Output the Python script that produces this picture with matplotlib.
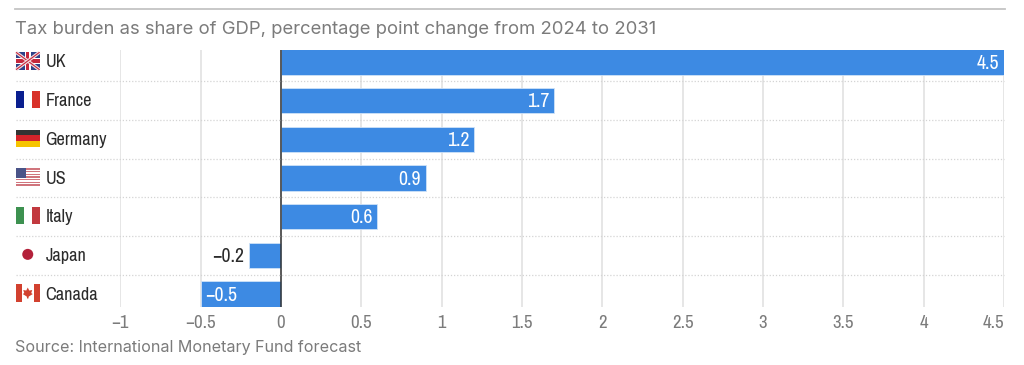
import numpy as np
import matplotlib
matplotlib.use('Agg')
import matplotlib.pyplot as plt
from matplotlib.patches import Rectangle, Circle, Polygon

countries = ['UK', 'France', 'Germany', 'US', 'Italy', 'Japan', 'Canada']
changes = [4.5, 1.7, 1.2, 0.9, 0.6, -0.2, -0.5]
value_labels = ['4.5', '1.7', '1.2', '0.9', '0.6', '\u22120.2', '\u22120.5']
tick_values = [-1, -0.5, 0, 0.5, 1, 1.5, 2, 2.5, 3, 3.5, 4, 4.5]
tick_labels = ['\u22121', '\u22120.5', '0', '0.5', '1', '1.5', '2', '2.5', '3', '3.5', '4', '4.5']
title = 'Tax burden as share of GDP, percentage point change from 2024 to 2031'
source = 'Source: International Monetary Fund forecast'

W, H = 1024, 365
NARROW = ['Archivo Narrow', 'Roboto Condensed', 'Roboto']
SANS = ['Inter', 'DejaVu Sans']
BLUE = '#3d8ae3'
GREY = '#7b7b7b'
INK = '#2b2b2b'

fig = plt.figure(figsize=(W / 100, H / 100), dpi=100, facecolor='white')

# overlay in pixel coordinates for rule, flags and row separators
bg = fig.add_axes([0, 0, 1, 1], zorder=3)
bg.set_xlim(0, W)
bg.set_ylim(H, 0)
bg.axis('off')
bg.patch.set_alpha(0)

left, right, top, bottom = 120.3, 1004, 50, 307
ax = fig.add_axes([left / W, 1 - bottom / H, (right - left) / W, (bottom - top) / H], zorder=2)
ax.set_xlim(-1, 4.5)
ax.set_ylim(6.335, -0.31)
for s in ax.spines.values():
    s.set_visible(False)
ax.set_yticks([])
ax.set_xticks(tick_values)
ax.set_xticklabels(tick_labels, family=NARROW, fontsize=13.5, color=GREY)
ax.get_xticklabels()[-1].set_horizontalalignment('right')
ax.tick_params(axis='x', length=0, pad=5.5)
ax.grid(axis='x', color='#e6e6e6', lw=1.4)
ax.set_axisbelow(True)

y = np.arange(len(countries))
ax.barh(y, changes, height=0.65, color=BLUE, edgecolor='#cfe2f8', lw=0.6, zorder=2)
ax.axvline(0, color='#333333', lw=1.1, zorder=3)

# value labels: inside the bar, except Japan's short bar
for i, (v, lab) in enumerate(zip(changes, value_labels)):
    yt = i - 0.025
    if v > 0:
        ax.text(v - 0.028, yt, lab, ha='right', va='center_baseline', color='white',
                family=NARROW, fontsize=14.2, zorder=4)
    elif v == -0.2:
        ax.text(v - 0.03, yt, lab, ha='right', va='center_baseline', color=INK,
                family=NARROW, fontsize=14.2, zorder=4)
    else:
        ax.text(v + 0.03, yt, lab, ha='left', va='center_baseline', color='white',
                family=NARROW, fontsize=14.2, zorder=4)

# row separators from the row positions
to_px = lambda d: ax.transData.transform((0, d))[1]
for i in range(len(countries) - 1):
    yp = H - to_px(i + 0.5)
    bg.plot([16, 1004], [yp, yp], color='#d4d4d4', lw=0.9, ls=(0, (1, 1.5)), zorder=0)


def flag_uk(x, y0, w, h):
    cx, cy = x + w / 2, y0 + h / 2
    bg.add_patch(Rectangle((x, y0), w, h, fc='#2f4288', lw=0))
    for a, b in [((x, y0), (x + w, y0 + h)), ((x, y0 + h), (x + w, y0))]:
        bg.plot(*zip(a, b), color='#f2dfe2', lw=2.4, solid_capstyle='butt')
        bg.plot(*zip(a, b), color='#c5283d', lw=0.8, solid_capstyle='butt')
    bg.add_patch(Rectangle((x, cy - 3), w, 6, fc='white', lw=0))
    bg.add_patch(Rectangle((cx - 3, y0), 6, h, fc='white', lw=0))
    bg.add_patch(Rectangle((x, cy - 1.7), w, 3.4, fc='#c5283d', lw=0))
    bg.add_patch(Rectangle((cx - 1.7, y0), 3.4, h, fc='#c5283d', lw=0))


def flag_france(x, y0, w, h):
    bg.add_patch(Rectangle((x, y0), w / 3, h, fc='#0a1f8f', lw=0))
    bg.add_patch(Rectangle((x + 2 * w / 3, y0), w / 3, h, fc='#d8322a', lw=0))


def flag_germany(x, y0, w, h):
    for k, c in enumerate(['#333333', '#d3232a', '#f6c400']):
        bg.add_patch(Rectangle((x, y0 + k * h / 3), w, h / 3, fc=c, lw=0))


def flag_us(x, y0, w, h):
    for k in range(7):
        bg.add_patch(Rectangle((x, y0 + k * h / 6.5), w, h / 13, fc='#d0757d', lw=0))
    bg.add_patch(Rectangle((x, y0), w * 0.42, h * 0.54, fc='#4a5488', lw=0))


def flag_italy(x, y0, w, h):
    bg.add_patch(Rectangle((x, y0), w / 3, h, fc='#3d9150', lw=0))
    bg.add_patch(Rectangle((x + 2 * w / 3, y0), w / 3, h, fc='#c2393f', lw=0))


def flag_japan(x, y0, w, h):
    bg.add_patch(Circle((x + w / 2, y0 + h / 2), 5.5, fc='#b3213a', lw=0))


def flag_canada(x, y0, w, h):
    cx, cy = x + w / 2, y0 + h / 2
    bg.add_patch(Rectangle((x, y0), w / 4, h, fc='#d2412f', lw=0))
    bg.add_patch(Rectangle((x + 3 * w / 4, y0), w / 4, h, fc='#d2412f', lw=0))
    leaf = [(0, -5.5), (1.5, -2.5), (4.5, -3), (3.5, 0), (5, 1), (1, 3.5), (0.6, 5.5),
            (-0.6, 5.5), (-1, 3.5), (-5, 1), (-3.5, 0), (-4.5, -3), (-1.5, -2.5)]
    bg.add_patch(Polygon([(cx + a, cy + b) for a, b in leaf], fc='#d2412f', lw=0))


flags = [flag_uk, flag_france, flag_germany, flag_us, flag_italy, flag_japan, flag_canada]
for i, (name, draw) in enumerate(zip(countries, flags)):
    yp = H - to_px(i) - 1
    draw(16, yp - 8.7, 23.5, 17.4)
    bg.text(45.5, yp, name, family=NARROW, fontsize=13.1, color=INK, ha='left', va='center_baseline')

# top rule, title, source
bg.plot([15, 1005], [9, 9], color='#c4c4c4', lw=1.3)
bg.text(15, 27.5, title, family=SANS, fontsize=13.3, color=GREY, ha='left', va='center_baseline')
bg.text(15, 346, source, family=SANS, fontsize=11.6, color=GREY, ha='left', va='center_baseline')

fig.savefig('out.png', dpi=100)
